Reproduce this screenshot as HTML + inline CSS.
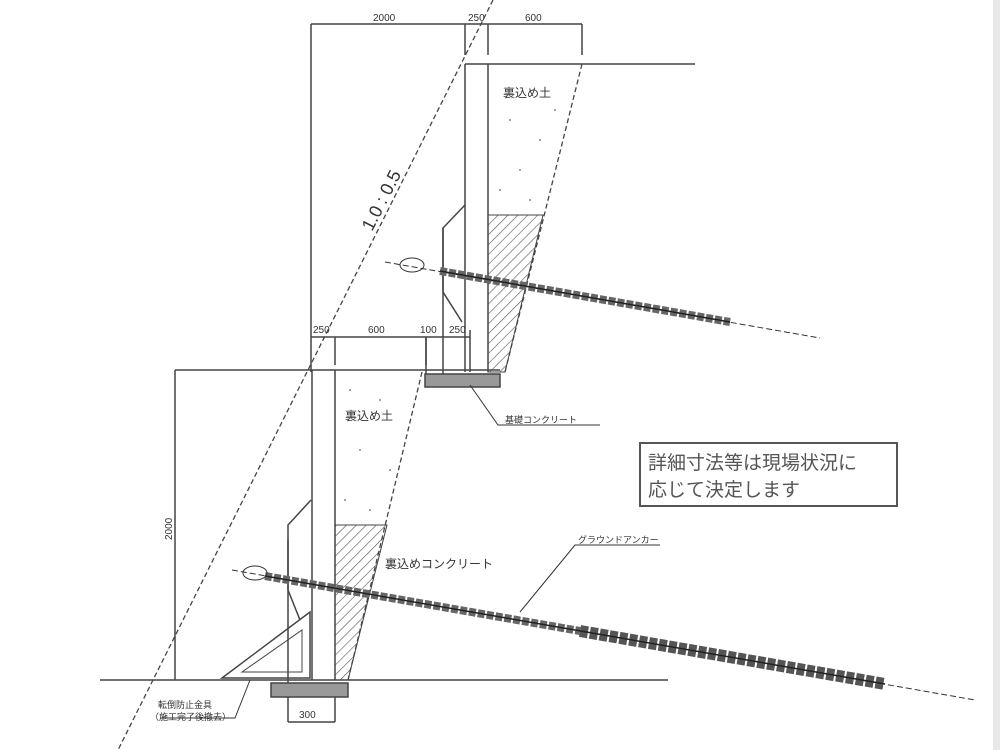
<!DOCTYPE html>
<html><head><meta charset="utf-8"><style>
html,body{margin:0;padding:0;background:#fff}
svg{display:block}
text{font-family:"Liberation Sans","Noto Sans CJK JP",sans-serif;fill:#333}
</style></head><body>
<svg width="1000" height="750" viewBox="0 0 1000 750" xmlns="http://www.w3.org/2000/svg">
<defs>
<pattern id="h" width="7" height="7" patternUnits="userSpaceOnUse" patternTransform="rotate(45)">
<line x1="0" y1="0" x2="0" y2="7" stroke="#555" stroke-width="1.2"/>
</pattern>
</defs>
<rect x="993" y="0" width="7" height="750" fill="#e8e8e8"/>
<g stroke="#444" stroke-width="1.5" fill="none">
<line x1="311" y1="24" x2="582" y2="24"/>
<line x1="311" y1="24" x2="311" y2="372"/>
<line x1="465" y1="24" x2="465" y2="55"/>
<line x1="488" y1="24" x2="488" y2="55"/>
<line x1="582" y1="24" x2="582" y2="55"/>
<line x1="465" y1="64" x2="695" y2="64"/>
<line x1="465" y1="64" x2="465" y2="372"/>
<line x1="488" y1="64" x2="488" y2="372"/>
<line x1="443" y1="228" x2="443" y2="374"/>
<line x1="426" y1="337" x2="426" y2="374"/>
<path d="M465 205 L443 228 L443 292 L462 322"/>
<line x1="311" y1="337" x2="470" y2="337"/>
<line x1="335" y1="337" x2="335" y2="365"/>
<line x1="426" y1="337" x2="426" y2="365"/>
<line x1="470" y1="330" x2="470" y2="372"/>
<line x1="175" y1="370" x2="500" y2="370"/>
<line x1="175" y1="370" x2="175" y2="680"/>
<line x1="312" y1="370" x2="312" y2="680"/>
<line x1="335" y1="370" x2="335" y2="680"/>
<line x1="288" y1="540" x2="288" y2="722"/>
<path d="M311 500 L288 525 L288 590 L300 620"/>
<line x1="100" y1="680" x2="668" y2="680"/>
<line x1="335" y1="697" x2="335" y2="722"/>
<line x1="288" y1="722" x2="335" y2="722"/>
<path d="M222 678 L310 612 L310 678 Z"/>
<path d="M242 672 L302 630 L302 672 Z" stroke-width="1"/>
</g>
<polygon points="488,215 543,215 505,372 488,372" fill="url(#h)" stroke="#444" stroke-width="1"/>
<polygon points="335,525 387,525 348,680 335,680" fill="url(#h)" stroke="#444" stroke-width="1"/>
<g fill="#888">
<circle cx="510" cy="120" r="1"/><circle cx="540" cy="140" r="1"/><circle cx="520" cy="170" r="1"/><circle cx="500" cy="190" r="1"/><circle cx="555" cy="110" r="1"/><circle cx="530" cy="200" r="1"/>
<circle cx="350" cy="390" r="1"/><circle cx="380" cy="400" r="1"/><circle cx="360" cy="450" r="1"/><circle cx="390" cy="470" r="1"/><circle cx="345" cy="500" r="1"/><circle cx="370" cy="510" r="1"/>
</g>
<g stroke-dasharray="5,3" stroke="#444" stroke-width="1.3" fill="none">
<line x1="582" y1="64" x2="505" y2="372"/>
<line x1="422" y1="372" x2="348" y2="680"/>
<line x1="493" y1="0" x2="118" y2="750"/>
</g>
<rect x="425" y="374" width="75" height="13" fill="#999" stroke="#444" stroke-width="1.5"/>
<rect x="271" y="683" width="77" height="14" fill="#999" stroke="#444" stroke-width="1.5"/>
<g fill="none">
<line x1="385" y1="262" x2="820" y2="338" stroke="#333" stroke-width="1" stroke-dasharray="6,3"/>
<line x1="440" y1="271" x2="730" y2="322" stroke="#666" stroke-width="8" stroke-dasharray="7,2"/>
<line x1="440" y1="271" x2="730" y2="322" stroke="#222" stroke-width="1.5"/>
<line x1="232" y1="570" x2="975" y2="700" stroke="#333" stroke-width="1" stroke-dasharray="6,3"/>
<line x1="265" y1="576" x2="580" y2="631" stroke="#666" stroke-width="8" stroke-dasharray="7,2"/>
<line x1="580" y1="631" x2="885" y2="684" stroke="#555" stroke-width="12" stroke-dasharray="8,2"/>
<line x1="265" y1="576" x2="885" y2="684" stroke="#222" stroke-width="1.5"/>
<ellipse cx="412" cy="265" rx="12" ry="7" stroke="#333"/>
<ellipse cx="255" cy="573" rx="12" ry="7" stroke="#333"/>
<path d="M470 385 L498 425 L600 425" stroke="#333" stroke-width="1"/>
<path d="M520 612 L575 545 L660 545" stroke="#333" stroke-width="1"/>
<path d="M250 680 L235 718 L160 718" stroke="#333" stroke-width="1"/>
</g>
<rect x="640" y="443" width="257" height="63" fill="#fff" stroke="#555" stroke-width="2"/>
<text x="648" y="469" font-size="19" style="fill:#555">詳細寸法等は現場状況に</text>
<text x="648" y="496" font-size="19" style="fill:#555">応じて決定します</text>
<g font-size="10">
<text x="373" y="21">2000</text>
<text x="468" y="21">250</text>
<text x="525" y="21">600</text>
<text x="313" y="333">250</text>
<text x="368" y="333">600</text>
<text x="420" y="333">100</text>
<text x="449" y="333">250</text>
<text x="299" y="718">300</text>
<text transform="translate(172,540) rotate(-90)">2000</text>
</g>
<text transform="translate(372,232) rotate(-63)" font-size="18">1.0 : 0.5</text>
<g font-size="12">
<text x="503" y="97">裏込め土</text>
<text x="345" y="420">裏込め土</text>
<text x="385" y="568">裏込めコンクリート</text>
</g>
<g font-size="9">
<text x="505" y="423">基礎コンクリート</text>
<text x="578" y="543">グラウンドアンカー</text>
<text x="158" y="708">転倒防止金具</text>
<text x="150" y="720">（施工完了後撤去）</text>
</g>
</svg>
</body></html>
